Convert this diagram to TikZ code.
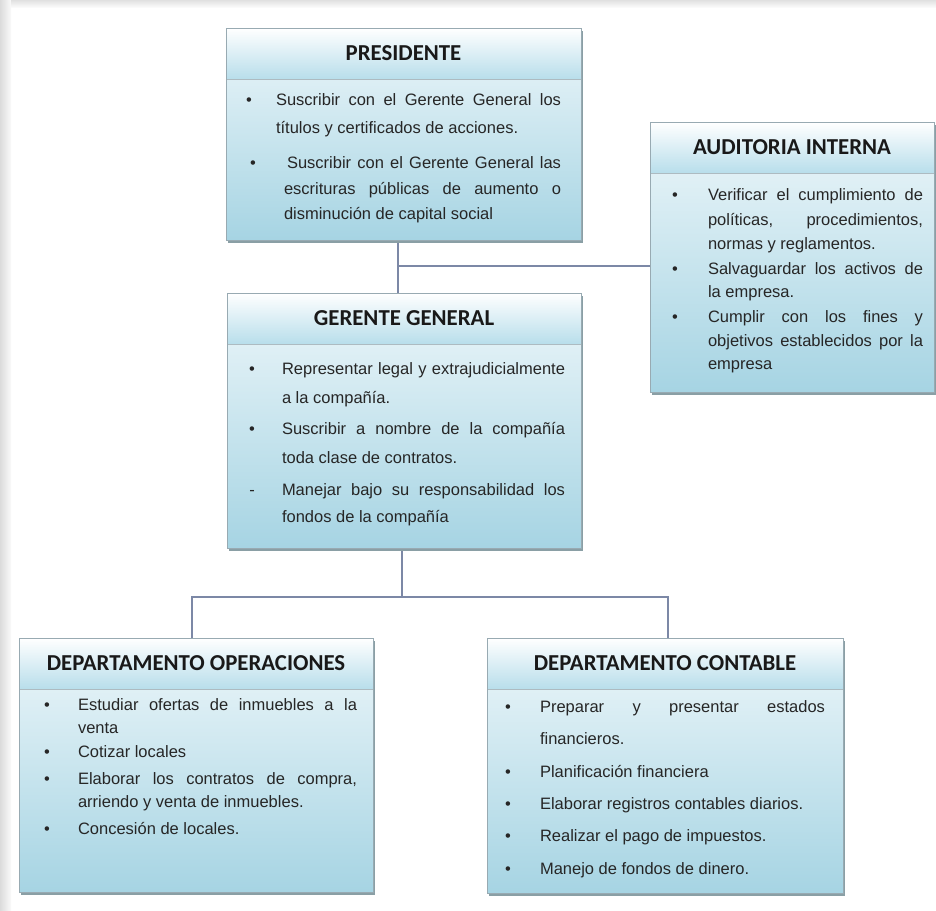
\documentclass[tikz,border=0pt]{standalone}
\usepackage{fontspec}
\setmainfont{Liberation Sans}
\newfontfamily\titlefont{Carlito}
\usetikzlibrary{fit}
\definecolor{bodytop}{HTML}{EEF7FA}
\definecolor{bodybot}{HTML}{A6D4E3}
\definecolor{hdrbot}{HTML}{B8DEEB}
\definecolor{edgec}{HTML}{98AAB2}
\definecolor{shadc}{HTML}{8A9FA5}
\definecolor{connc}{HTML}{7C88A6}
\definecolor{txtc}{HTML}{262626}
\tikzset{
  bodyt/.style={font=\fontsize{16.5}{19}\selectfont, text=txtc, inner sep=0pt, outer sep=0pt},
  conn/.style={draw=connc, line width=1.5pt},
  titlet/.style={font=\titlefont\bfseries\fontsize{22.8}{26}\selectfont, text=black!90, inner sep=0pt}
}
\newcommand{\OrgBox}[6]{%
  \fill[shadc] (#2+1.5,#3+3) rectangle (#4+1.5,#5+3);
  \node[fit={(#2,#3) (#4,#5)}, inner sep=0pt, outer sep=0pt] (#1) {};
  \shade[top color=bodytop, bottom color=bodybot] (#1.north west) rectangle (#1.south east);
  \shade[top color=white, bottom color=hdrbot] (#1.north west) rectangle ([yshift=-51pt]#1.north east);
  \draw[edgec!80, line width=0.8pt] ([yshift=-51pt]#1.north west) -- ([yshift=-51pt]#1.north east);
  \draw[edgec, line width=0.8pt] (#1.north west) rectangle (#1.south east);
  \node[titlet] (#1t) at ([yshift=-25.5pt]#1.north) {#6};
}
\newcommand{\Bu}[3]{\node[bodyt, anchor=base] (#1) at (#2,#3) {•};}
\newcommand{\Ln}[4]{\node[bodyt, anchor=base west] (#1) at (#2,#3) {#4};}
\newcommand{\JLn}[5]{\node[bodyt, anchor=base west] (#1) at (#2,#3) {\makebox[#4pt][s]{#5}};}
\begin{document}
\begin{tikzpicture}[x=1pt, y=-1pt]
\useasboundingbox (0,0) rectangle (936,910);
\fill[white] (0,0) rectangle (936,910);
\shade[left color=black!14, right color=black!2] (0,0) rectangle (11,910);
\shade[top color=black!12, bottom color=black!2] (11,0) rectangle (936,7);

% connectors
\coordinate (j1) at (398,266);
\coordinate (j2) at (402,597);
\coordinate (j3) at (192,597);
\coordinate (j4) at (668,597);

\node[fit={(226,28) (581,240)}, inner sep=0pt] (presA) {};
\node[fit={(227,293) (581,548)}, inner sep=0pt] (gerA) {};
\node[fit={(650,122) (934,392)}, inner sep=0pt] (audA) {};
\node[fit={(19,638) (373,892)}, inner sep=0pt] (opsA) {};
\node[fit={(487,638) (843,893)}, inner sep=0pt] (contA) {};

\draw[conn] (j1 |- presA.south) -- (j1 |- gerA.north);
\draw[conn] (j1) -- (j1 -| audA.west);
\draw[conn] (j2 |- gerA.south) -- (j2);
\draw[conn] (j3 |- opsA.north) -- (j3) -- (j4) -- (j4 |- contA.north);

% boxes
\OrgBox{pres}{226}{28}{581}{240}{PRESIDENTE}
\OrgBox{aud}{650}{122}{934}{392}{AUDITORIA INTERNA}
\OrgBox{ger}{227}{293}{581}{548}{GERENTE GENERAL}
\OrgBox{ops}{19}{638}{373}{892}{DEPARTAMENTO OPERACIONES}
\OrgBox{cont}{487}{638}{843}{893}{DEPARTAMENTO CONTABLE}

% PRESIDENTE
\Bu{pb1}{249}{105}
\JLn{pl1}{276}{105}{285}{Suscribir con el Gerente General los}
\Ln{pl2}{276}{133}{títulos y certificados de acciones.}
\Bu{pb2}{253}{168}
\JLn{pl3}{287}{168}{274}{Suscribir con el Gerente General las}
\JLn{pl4}{284}{194}{277}{escrituras públicas de aumento o}
\Ln{pl5}{284}{219}{disminución de capital social}

% AUDITORIA
\Bu{ab1}{675}{200}
\JLn{al1}{708}{200}{215}{Verificar el cumplimiento de}
\JLn{al2}{708}{225}{215}{políticas, procedimientos,}
\Ln{al3}{708}{249}{normas y reglamentos.}
\Bu{ab2}{675}{274}
\JLn{al4}{708}{274}{215}{Salvaguardar los activos de}
\Ln{al5}{708}{297}{la empresa.}
\Bu{ab3}{675}{322}
\JLn{al6}{708}{322}{215}{Cumplir con los fines y}
\JLn{al7}{708}{346}{215}{objetivos establecidos por la}
\Ln{al8}{708}{369}{empresa}

% GERENTE
\Bu{gb1}{252}{374}
\JLn{gl1}{282}{374}{283}{Representar legal y extrajudicialmente}
\Ln{gl2}{282}{403}{a la compañía.}
\Bu{gb2}{252}{434}
\JLn{gl3}{282}{434}{283}{Suscribir a nombre de la compañía}
\Ln{gl4}{282}{463}{toda clase de contratos.}
\node[bodyt, anchor=base] (gb3) at (252,495) {-};
\JLn{gl5}{282}{495}{283}{Manejar bajo su responsabilidad los}
\Ln{gl6}{282}{522}{fondos de la compañía}

% OPERACIONES
\Bu{ob1}{47}{710}
\JLn{ol1}{78}{710}{279}{Estudiar ofertas de inmuebles a la}
\Ln{ol2}{78}{733}{venta}
\Bu{ob2}{47}{757}
\Ln{ol3}{78}{757}{Cotizar locales}
\Bu{ob3}{47}{784}
\JLn{ol4}{78}{784}{279}{Elaborar los contratos de compra,}
\Ln{ol5}{78}{807}{arriendo y venta de inmuebles.}
\Bu{ob4}{47}{834}
\Ln{ol6}{78}{834}{Concesión de locales.}

% CONTABLE
\Bu{cb1}{508}{712}
\JLn{cl1}{540}{712}{285}{Preparar y presentar estados}
\Ln{cl2}{540}{744}{financieros.}
\Bu{cb2}{508}{777}
\Ln{cl3}{540}{777}{Planificación financiera}
\Bu{cb3}{508}{809}
\Ln{cl4}{540}{809}{Elaborar registros contables diarios.}
\Bu{cb4}{508}{841}
\Ln{cl5}{540}{841}{Realizar el pago de impuestos.}
\Bu{cb5}{508}{874}
\Ln{cl6}{540}{874}{Manejo de fondos de dinero.}
\end{tikzpicture}
\end{document}
